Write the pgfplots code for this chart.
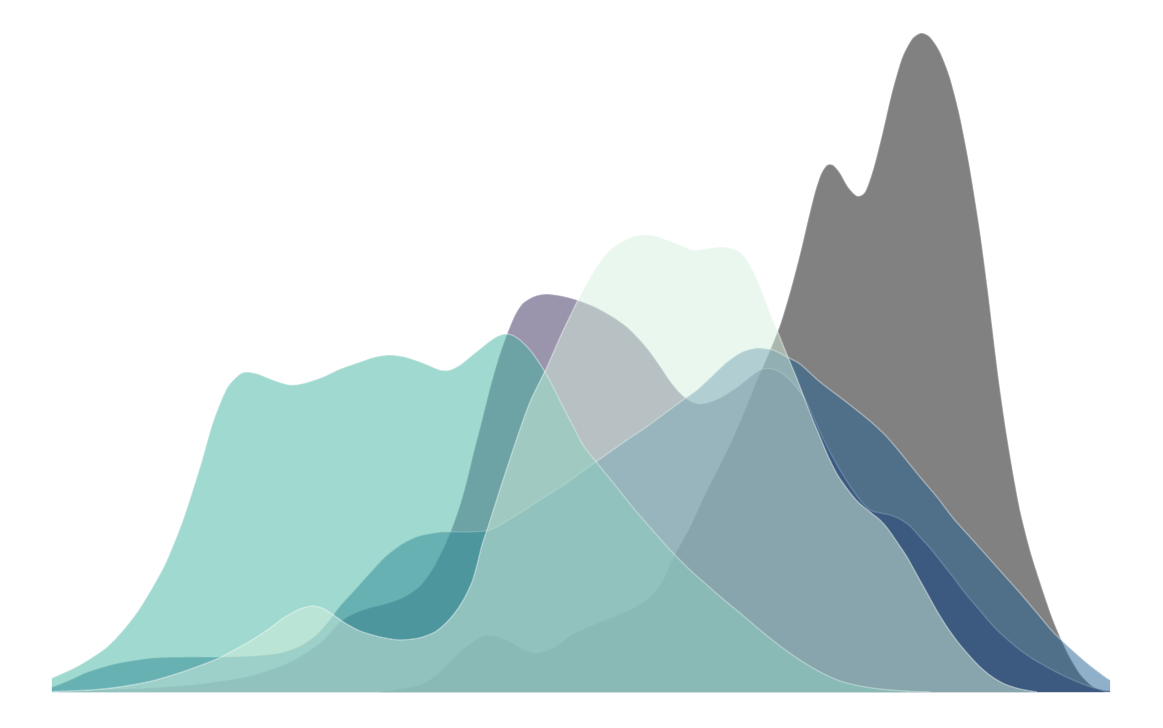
\documentclass[border=0pt]{standalone}
\usepackage{pgfplots}
\usepackage{pgfplotstable}
\pgfplotsset{compat=1.18}

\definecolor{cG}{RGB}{6,3,4}
\definecolor{cP}{RGB}{53,41,91}
\definecolor{cB}{RGB}{31,97,145}
\definecolor{cT}{RGB}{65,179,159}
\definecolor{cM}{RGB}{213,239,221}

% x in pixels, h = height of density above baseline (pixels)
\pgfplotstableread{
x h
380 0
420 7
440 20
460 40
480 55
495 56
510 50
525 42
537 39
555 45
573 58
595 68
613 75
635 85
650 95
663 112
673 134
690 165
707 202
720 227
733 254
745 282
757 312
768 337
780 367
790 400
800 438
808 472
815 500
821 518
827 527
833 527
840 519
848 505
857 496
865 500
873 522
882 557
892 600
902 634
912 653
921 659
930 655
940 640
950 614
960 575
970 523
980 460
988 400
994 350
999 310
1005 268
1012 225
1020 182
1030 142
1040 110
1053 72
1067 40
1080 18
1092 6
1105 0
}\tG

\pgfplotstableread{
x h
60 1
100 2
150 4
200 8
250 16
290 30
320 49
340 70
355 79
369 84
385 88
402 94
419 105
432 122
443 143
452 164
460 187
467 212
473 237
482 272
490 304
498 332
507 358
515 377
523 389
535 396
547 398
562 396
577 392
595 385
613 375
627 365
640 352
650 340
660 326
670 311
680 299
690 291
700 288
710 290
720 294
730 300
740 307
750 315
757 320
763 323
772 323
780 320
790 312
797 304
805 293
812 278
820 260
830 240
840 222
850 206
860 192
870 182
880 179
890 177
900 173
910 166
920 155
930 144
942 129
953 115
965 99
977 85
987 73
997 62
1008 52
1020 42
1033 33
1047 25
1060 18
1073 12
1088 6
1103 2
1115 1
}\tP

\pgfplotstableread{
x h
40 4
52 5
70 12
85 19
100 24
119 29
152 34
185 35
219 35
252 36
280 39
300 46
315 56
328 70
340 86
352 99
369 118
385 135
402 148
419 156
442 160
465 160
490 162
515 176
540 192
565 208
590 226
610 240
627 252
645 264
660 275
683 292
697 302
710 314
727 330
742 340
757 344
773 342
787 335
800 328
820 310
845 291
870 271
887 255
903 236
920 215
937 195
953 174
970 155
987 136
1003 118
1020 99
1037 79
1053 60
1070 44
1087 29
1100 19
1110 12
1125 6
}\tB

\pgfplotstableread{
x h
40 8
52 14
70 22
85 30
107 45
125 64
140 84
155 109
167 132
183 172
200 225
213 270
227 304
240 318
247 320
258 318
273 312
290 307
305 309
323 315
340 323
357 329
375 335
390 337
405 335
423 329
440 322
450 322
460 327
470 335
480 343
490 351
498 356
505 358
512 357
520 352
530 342
540 328
550 311
563 285
573 266
583 247
597 229
615 207
635 182
655 159
673 139
690 122
707 107
723 93
740 79
760 62
780 46
800 32
820 20
840 11
860 6
880 3
905 1
930 0
}\tT

\pgfplotstableread{
x h
40 0
90 2
119 5
152 11
185 21
219 34
252 52
270 64
285 75
300 83
312 86
322 84
332 78
345 69
360 61
380 55
399 52
419 54
435 60
447 70
457 82
465 95
472 110
477 127
482 147
488 165
495 187
505 218
517 254
530 290
547 325
562 359
577 390
590 414
600 430
610 442
620 449
632 455
643 457
655 456
667 452
680 447
693 442
705 443
720 445
730 444
740 440
748 430
755 417
762 400
770 379
777 362
783 347
790 330
797 313
805 292
812 274
820 255
828 236
837 218
848 202
858 190
870 180
880 172
888 163
897 150
907 135
917 117
927 99
937 81
947 65
957 51
967 39
977 28
987 19
997 12
1007 7
1020 3
1037 0
}\tM

\begin{document}
\begin{tikzpicture}
\path[use as bounding box] (0,0) rectangle (11.63cm,7.27cm);
\begin{axis}[
  at={(0.52cm,0.35cm)}, anchor=south west,
  scale only axis, width=10.58cm, height=6.92cm,
  xmin=52, xmax=1110, ymin=0, ymax=692,
  hide axis,
  every axis plot/.append style={smooth, tension=0.45},
]
\addplot[draw=none, fill=cG, fill opacity=0.5] table[x=x,y=h]{\tG} \closedcycle;
\addplot[draw=white, draw opacity=0.35, line width=0.4pt] table[x=x,y=h]{\tG};
\addplot[draw=none, fill=cP, fill opacity=0.5] table[x=x,y=h]{\tP} \closedcycle;
\addplot[draw=white, draw opacity=0.35, line width=0.4pt] table[x=x,y=h]{\tP};
\addplot[draw=none, fill=cB, fill opacity=0.5] table[x=x,y=h]{\tB} \closedcycle;
\addplot[draw=white, draw opacity=0.35, line width=0.4pt] table[x=x,y=h]{\tB};
\addplot[draw=none, fill=cT, fill opacity=0.5] table[x=x,y=h]{\tT} \closedcycle;
\addplot[draw=white, draw opacity=0.35, line width=0.4pt] table[x=x,y=h]{\tT};
\addplot[draw=none, fill=cM, fill opacity=0.5] table[x=x,y=h]{\tM} \closedcycle;
\addplot[draw=white, draw opacity=0.35, line width=0.4pt] table[x=x,y=h]{\tM};
\end{axis}
\end{tikzpicture}
\end{document}
